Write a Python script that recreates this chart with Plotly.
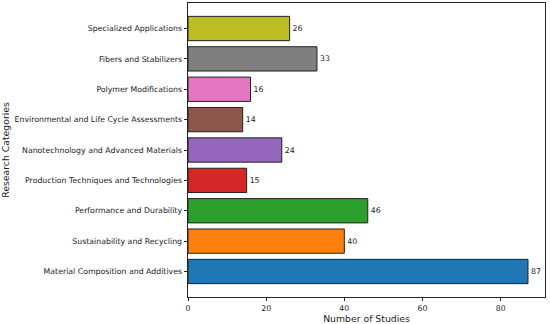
import plotly.graph_objects as go

categories = [
    "Material Composition and Additives",
    "Sustainability and Recycling",
    "Performance and Durability",
    "Production Techniques and Technologies",
    "Nanotechnology and Advanced Materials",
    "Environmental and Life Cycle Assessments",
    "Polymer Modifications",
    "Fibers and Stabilizers",
    "Specialized Applications",
]
counts = [87, 40, 46, 15, 24, 14, 16, 33, 26]
colors = ["#1f77b4", "#ff7f0e", "#2ca02c", "#d62728", "#9467bd",
          "#8c564b", "#e377c2", "#7f7f7f", "#bcbd22"]
x_ticks = [0, 20, 40, 60, 80]

font_family = "DejaVu Sans"
text_color = "#222222"
fig = go.Figure()
fig.add_trace(go.Bar(
    y=list(range(len(categories))), x=counts, orientation="h",
    marker=dict(color=colors, line=dict(color="#222222", width=1)),
    width=0.8,
    text=[str(c) for c in counts], textposition="outside",
    textfont=dict(family=font_family, size=7.8, color=text_color),
    cliponaxis=False,
))
fig.update_layout(
    template="none",
    width=550, height=324,
    margin=dict(l=188, r=5, t=3, b=27),
    plot_bgcolor="white", paper_bgcolor="white",
    showlegend=False,
    font=dict(family=font_family, size=7.8, color=text_color),
    xaxis=dict(
        range=[0, 91.35], tickvals=x_ticks, ticks="outside", ticklen=3.5,
        tickcolor="#222222", showline=True, linecolor="#222222", linewidth=0.8,
        mirror=True, showgrid=False, zeroline=False, automargin=False,
        tickfont=dict(color=text_color),
        title=dict(text="Number of Studies",
                   font=dict(family=font_family, size=9.3, color=text_color),
                   standoff=3),
    ),
    yaxis=dict(
        range=[-0.84, 8.84], tickvals=list(range(len(categories))),
        ticktext=categories, ticks="outside", ticklen=3.5,
        tickcolor="#222222", showline=True, linecolor="#222222", linewidth=0.8,
        mirror=True, showgrid=False, zeroline=False, automargin=False,
        tickfont=dict(color=text_color),
        title=dict(text="Research Categories",
                   font=dict(family=font_family, size=9.3, color=text_color),
                   standoff=5),
    ),
)
fig.write_html("out.html", config={"displayModeBar": False},
               post_script="document.body.style.margin='0';document.body.style.overflow='hidden';")
